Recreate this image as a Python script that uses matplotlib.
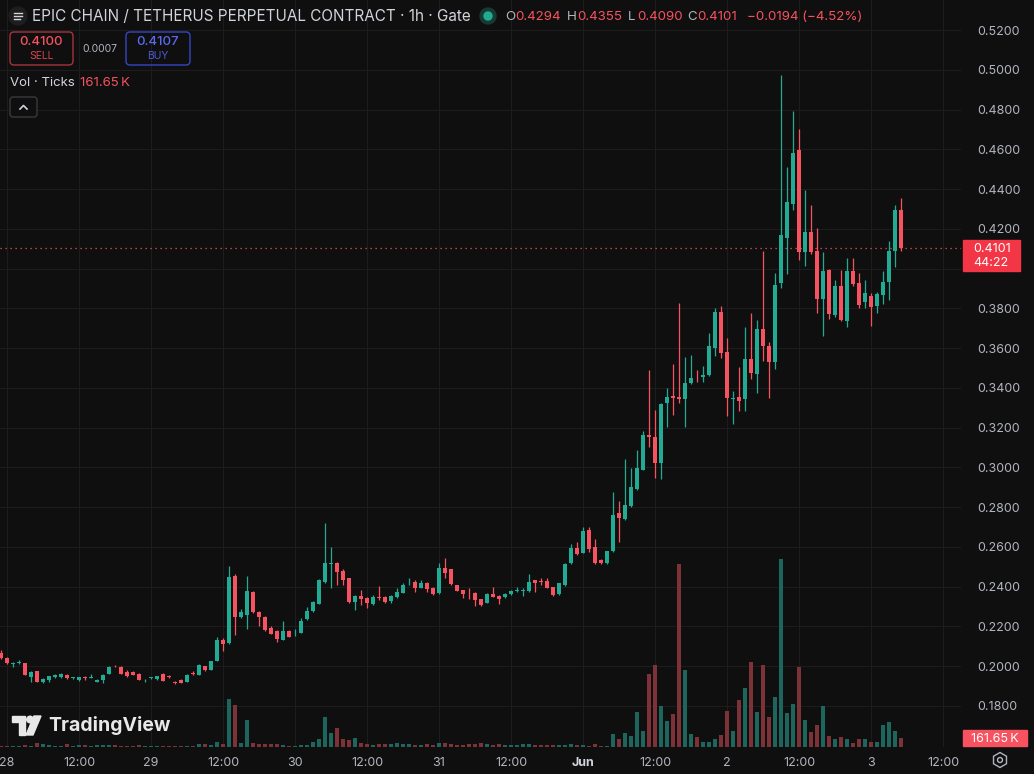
import numpy as np
import matplotlib.pyplot as plt
from matplotlib.patches import FancyBboxPatch, Rectangle, Circle, Polygon, RegularPolygon

plt.rcParams['font.family'] = ['Inter', 'DejaVu Sans']

# hourly candles, first one is 27 May 23:00, last one 3 Jun 05:00
opens = [
    .2067, .2039, .2012, .2018, .2014, .1946, .1975, .1921, .1933, .1946,
    .1946, .1958, .1940, .1930, .1944, .1943, .1921, .1930, .1963, .2003,
    .1997, .1972, .1972, .1963, .1928, .1940, .1936, .1960, .1950, .1918,
    .1933, .1921, .1964, .1958, .2000, .1983, .2027, .2131, .2117, .2453,
    .2245, .2257, .2374, .2273, .2248, .2190, .2176, .2134, .2176, .2165,
    .2168, .2237, .2277, .2315, .2424, .2515, .2520, .2480, .2442, .2324,
    .2353, .2344, .2312, .2348, .2349, .2329, .2346, .2369, .2421, .2421,
    .2395, .2420, .2395, .2366, .2492, .2487, .2408, .2383, .2368, .2370,
    .2338, .2319, .2363, .2353, .2346, .2363, .2378, .2378, .2378, .2433,
    .2427, .2428, .2396, .2363, .2408, .2517, .2596, .2571, .2685, .2597,
    .2534, .2517, .2579, .2768, .2739, .2806, .2889, .2987, .3163, .3151,
    .3020, .3322, .3361, .3356, .3342, .3423, .3456, .3453, .3465, .3599,
    .3783, .3582, .3345, .3356, .3345, .3543, .3472, .3697, .3610, .3532,
    .3926, .4155, .4327, .4595, .4082, .4185, .4087, .3846, .3995, .3765,
    .3914, .3738, .3990, .3926, .3830, .3864, .3811, .3869, .3931, .4087,
    .4294,
]
highs = [
    .2080, .2045, .2022, .2030, .2018, .1975, .1978, .1940, .1953, .1962,
    .1966, .1962, .1946, .1948, .1952, .1963, .1936, .1960, .2000, .2005,
    .2000, .1980, .1977, .1966, .1934, .1948, .1953, .1965, .1956, .1925,
    .1936, .1960, .1975, .2010, .2003, .2028, .2145, .2140, .2503, .2466,
    .2290, .2453, .2380, .2276, .2250, .2200, .2180, .2226, .2180, .2185,
    .2240, .2300, .2330, .2440, .2720, .2601, .2525, .2490, .2445, .2360,
    .2383, .2348, .2356, .2403, .2352, .2356, .2393, .2420, .2442, .2433,
    .2433, .2423, .2398, .2517, .2542, .2490, .2410, .2385, .2391, .2372,
    .2340, .2366, .2396, .2356, .2366, .2383, .2400, .2391, .2462, .2436,
    .2442, .2442, .2398, .2418, .2520, .2614, .2626, .2698, .2700, .2638,
    .2537, .2580, .2876, .2832, .3042, .2995, .3087, .3185, .3490, .3289,
    .3325, .3397, .3520, .3828, .3553, .3565, .3490, .3510, .3674, .3800,
    .3812, .3649, .3386, .3503, .3708, .3777, .3743, .4086, .3633, .3976,
    .4973, .4510, .4792, .4701, .4396, .4320, .4206, .4082, .4000, .3942,
    .3995, .4052, .4052, .3976, .3942, .3876, .3880, .3990, .4139, .4320,
    .4355,
]
lows = [
    .2035, .2010, .1995, .2012, .1955, .1921, .1918, .1915, .1921, .1943,
    .1943, .1938, .1936, .1927, .1930, .1940, .1918, .1916, .1960, .1997,
    .1960, .1948, .1955, .1930, .1920, .1938, .1933, .1924, .1940, .1908,
    .1913, .1918, .1955, .1955, .1978, .1980, .2024, .2077, .2110, .2159,
    .2240, .2185, .2270, .2201, .2178, .2160, .2123, .2130, .2145, .2150,
    .2165, .2233, .2273, .2312, .2420, .2391, .2408, .2408, .2320, .2282,
    .2307, .2291, .2308, .2333, .2320, .2316, .2343, .2366, .2408, .2375,
    .2392, .2375, .2360, .2363, .2442, .2410, .2377, .2341, .2336, .2304,
    .2304, .2316, .2346, .2311, .2343, .2360, .2375, .2353, .2375, .2375,
    .2408, .2393, .2355, .2360, .2405, .2514, .2560, .2568, .2576, .2514,
    .2514, .2514, .2576, .2626, .2736, .2800, .2885, .2985, .3104, .2945,
    .2940, .3205, .3263, .3322, .3205, .3420, .3431, .3431, .3462, .3560,
    .3548, .3258, .3218, .3283, .3284, .3445, .3376, .3536, .3348, .3495,
    .3903, .3972, .4293, .4041, .4013, .4075, .3777, .3662, .3747, .3754,
    .3738, .3708, .3914, .3800, .3800, .3713, .3777, .3823, .3841, .4006,
    .4090,
]
closes = [
    .2039, .2014, .2016, .2022, .1958, .1972, .1921, .1938, .1950, .1958,
    .1963, .1941, .1943, .1945, .1941, .1946, .1933, .1958, .1997, .1999,
    .1963, .1950, .1958, .1933, .1932, .1943, .1950, .1926, .1946, .1915,
    .1916, .1958, .1961, .2008, .1980, .2025, .2131, .2114, .2450, .2248,
    .2273, .2377, .2273, .2245, .2181, .2164, .2139, .2176, .2148, .2168,
    .2226, .2277, .2324, .2433, .2520, .2519, .2475, .2433, .2324, .2353,
    .2336, .2316, .2346, .2345, .2324, .2353, .2375, .2408, .2425, .2395,
    .2420, .2388, .2363, .2492, .2467, .2413, .2380, .2363, .2366, .2333,
    .2307, .2363, .2349, .2336, .2363, .2380, .2380, .2382, .2421, .2416,
    .2425, .2395, .2358, .2416, .2515, .2593, .2562, .2681, .2590, .2517,
    .2517, .2577, .2760, .2744, .2809, .2900, .2995, .3163, .3151, .3024,
    .3319, .3352, .3347, .3342, .3423, .3448, .3453, .3465, .3610, .3783,
    .3577, .3347, .3348, .3335, .3546, .3474, .3697, .3610, .3532, .3919,
    .4167, .4334, .4579, .4082, .4185, .4082, .3846, .3990, .3770, .3910,
    .3743, .3990, .3921, .3818, .3876, .3807, .3873, .3931, .4087, .4297,
    .4101,
]
# volume in thousands
volumes = [
    18, 18, 18, 18, 36, 18, 72, 54, 36, 18,
    18, 54, 18, 36, 36, 18, 36, 36, 36, 36,
    18, 18, 18, 36, 18, 18, 18, 18, 18, 18,
    18, 18, 18, 54, 54, 36, 90, 54, 865, 755,
    72, 485, 72, 54, 54, 54, 54, 36, 18, 18,
    36, 36, 90, 145, 540, 250, 340, 145, 125, 160,
    72, 54, 36, 54, 54, 54, 72, 54, 54, 36,
    36, 54, 36, 72, 72, 54, 36, 36, 54, 54,
    72, 54, 36, 54, 36, 36, 36, 54, 54, 36,
    36, 36, 36, 36, 36, 54, 36, 36, 18, 54,
    18, 18, 235, 145, 250, 200, 630, 290, 1315, 1475,
    740, 470, 595, 3295, 1385, 235, 180, 90, 90, 145,
    215, 650, 290, 845, 1060, 1530, 630, 1475, 540, 900,
    3385, 610, 775, 1440, 485, 270, 395, 740, 200, 145,
    180, 145, 72, 145, 145, 90, 90, 395, 450, 290,
    161.65,
]

tick_hours = [0, 12, 24, 36, 48, 60, 72, 84, 96, 108, 120, 132, 144, 156]
tick_labels = ['28', '12:00', '29', '12:00', '30', '12:00', '31', '12:00',
               'Jun', '12:00', '2', '12:00', '3', '12:00']
price_ticks = np.arange(0.18, 0.5201, 0.02)
last_price = 0.4101

BG = '#0f0f0f'
UP, DOWN = '#22ab94', '#f7525f'
VUP, VDOWN = '#1c665d', '#7c3236'
TXT = '#b2b5be'

fig = plt.figure(figsize=(10.34, 7.74), dpi=100, facecolor=BG)
ax = fig.add_axes([0, 27 / 774, 961 / 1034, 747 / 774])
ax.set_facecolor(BG)
vax = ax.twinx()
vax.patch.set_visible(False)

hours = np.arange(len(opens)) - 1
o, h, l, c = map(np.array, (opens, highs, lows, closes))
up = c >= o
cols = np.where(up, UP, DOWN)

vax.bar(hours, volumes, width=0.78, color=np.where(up, VUP, VDOWN), linewidth=0)
vax.set_ylim(0, 747 * 18)
vax.set_yticks([])

ax.vlines(hours, l, h, colors=cols, lw=0.9, zorder=3)
ax.bar(hours, np.maximum(np.abs(c - o), 0.0004), bottom=np.minimum(o, c),
       width=0.72, color=cols, linewidth=0, zorder=4)
ax.axhline(last_price, color=DOWN, lw=0.9, ls=(0, (1, 3)), zorder=2)

ax.set_xlim(-7 / 6, 159)
ax.set_ylim(0.52 - 717 * 0.000503, 0.52 + 30 * 0.000503)
ax.set_xticks(tick_hours)
ax.set_xticklabels(tick_labels)
ax.set_yticks(price_ticks)
# the 0.4000 label sits under the last-price tag
ax.set_yticklabels(['' if abs(p - 0.40) < 1e-6 else '%.4f' % p for p in price_ticks])
ax.yaxis.tick_right()
ax.tick_params(axis='y', length=0, pad=12, labelsize=9, labelcolor=TXT)
ax.tick_params(axis='x', length=0, pad=7, labelsize=9, labelcolor=TXT)
for lab in ax.get_xticklabels():
    if lab.get_text() == 'Jun':
        lab.set_fontweight('bold')
        lab.set_color('#d1d4dc')
ax.grid(True, color='#1d1d1d', lw=0.8)
ax.set_axisbelow(True)
for a in (ax, vax):
    for s in a.spines.values():
        s.set_visible(False)

# overlay in pixel coordinates for the TradingView chrome
ov = fig.add_axes([0, 0, 1, 1], zorder=10)
ov.set_xlim(0, 1034)
ov.set_ylim(774, 0)
ov.axis('off')
ov.patch.set_alpha(0)

ov.add_patch(Circle((18, 16), 9, color='#1e1e1e'))
for yy, x1 in ((13, 22), (16, 22), (19, 20)):
    ov.plot([14, x1], [yy, yy], color='#d1d4dc', lw=1)
ov.text(32, 16.5, 'EPIC CHAIN / TETHERUS PERPETUAL CONTRACT · 1h · Gate', va='center',
        ha='left', color='#d1d4dc', fontsize=11)
ov.add_patch(Circle((488, 16), 8, color='#173a33'))
ov.add_patch(Circle((488, 16), 4, color=UP))
for x, s, col in ((505, 'O', TXT), (515, '0.4294', DOWN), (567, 'H', TXT), (577, '0.4355', DOWN),
                  (628, 'L', TXT), (637, '0.4090', DOWN), (687, 'C', TXT), (697, '0.4101', DOWN),
                  (747, '\u22120.0194 (\u22124.52%)', DOWN)):
    ov.text(x, 16.5, s, va='center', ha='left', color=col, fontsize=9.6)

ov.add_patch(FancyBboxPatch((10, 32), 63, 33, boxstyle='round,pad=0,rounding_size=4',
                            fc='none', ec='#a8323c', lw=1))
ov.text(41.5, 42, '0.4100', ha='center', va='center', color=DOWN, fontsize=9.5, fontweight='medium')
ov.text(41.5, 56, 'SELL', ha='center', va='center', color='#d8434f', fontsize=7.5)
ov.text(100, 49, '0.0007', ha='center', va='center', color=TXT, fontsize=7.5)
ov.add_patch(FancyBboxPatch((126, 32), 64, 33, boxstyle='round,pad=0,rounding_size=4',
                            fc='none', ec='#3545c8', lw=1))
ov.text(158, 42, '0.4107', ha='center', va='center', color='#5b6af0', fontsize=9.5, fontweight='medium')
ov.text(158, 56, 'BUY', ha='center', va='center', color='#4d5cd6', fontsize=7.5)

ov.text(10, 82.5, 'Vol \u00b7 Ticks', ha='left', va='center', color='#d1d4dc', fontsize=9.5)
ov.text(80, 82.5, '161.65\u2009K', ha='left', va='center', color=DOWN, fontsize=9.5)
ov.add_patch(FancyBboxPatch((10, 97), 27, 20, boxstyle='round,pad=0,rounding_size=3',
                            fc=BG, ec='#3a3a3a', lw=1))
ov.plot([20, 23.5, 27], [109, 105.5, 109], color='#d1d4dc', lw=1.2)

# last price label and volume label on the right scale
ov.add_patch(Rectangle((963, 240), 57, 31, color='#f23645'))
ov.text(973, 249.5, '0.4101', ha='left', va='center', color='white', fontsize=9)
ov.text(973, 263, '44:22', ha='left', va='center', color='white', fontsize=9)
ov.add_patch(Rectangle((963, 730), 64, 16, color='#f7525f'))
ov.text(971, 738.5, '161.65\u2009K', ha='left', va='center', color='white', fontsize=9)
ov.add_patch(RegularPolygon((1000, 760), 6, radius=7.5, fill=False, ec=TXT, lw=1))
ov.add_patch(Circle((1000, 760), 2.5, fill=False, ec=TXT, lw=1))

# TradingView logo
ov.add_patch(Polygon([(12, 716), (25, 716), (25, 735), (19, 735), (19, 722), (12, 722)], color='#e8e8e8'))
ov.add_patch(Circle((30, 719.5), 3.3, color='#e8e8e8'))
ov.add_patch(Polygon([(34, 716), (41, 716), (33, 735), (26, 735)], color='#e8e8e8'))
ov.text(48, 725.5, 'TradingView', ha='left', va='center', color='#e8e8e8', fontsize=14, fontweight='bold')

fig.savefig('out.png', dpi=100, facecolor=BG)
